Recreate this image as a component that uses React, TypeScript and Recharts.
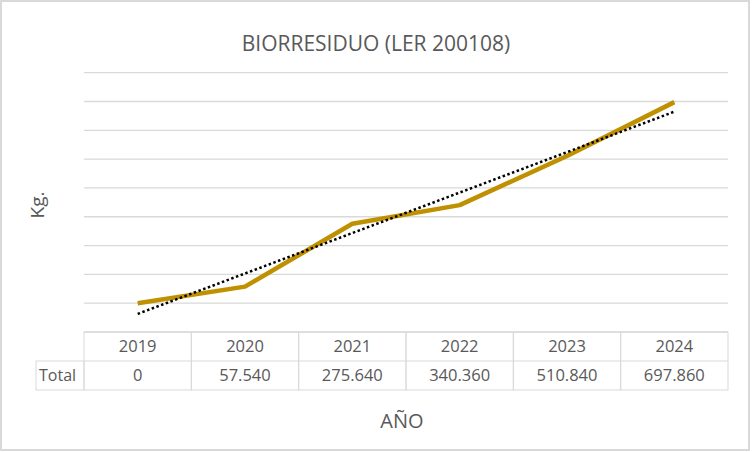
import { LineChart, Line, XAxis, YAxis, CartesianGrid } from 'recharts'

const years = ['2019', '2020', '2021', '2022', '2023', '2024']
const totals = [0, 57540, 275640, 340360, 510840, 697860]
const yTicks = [-100000, 0, 100000, 200000, 300000, 400000, 500000, 600000, 700000, 800000]

// lineal trend like the Excel trendline
const n = totals.length
const meanX = (n - 1) / 2
const meanY = totals.reduce((a, b) => a + b, 0) / n
const slope =
  totals.reduce((s, v, i) => s + (i - meanX) * (v - meanY), 0) /
  totals.reduce((s, _v, i) => s + (i - meanX) * (i - meanX), 0)
const intercept = meanY - slope * meanX

const data = years.map((year, i) => ({
  year,
  total: totals[i],
  trend: intercept + slope * i,
}))

const fmt = (v: number) => v.toLocaleString('de-DE')

const W = 752
const H = 452
const LEFT = 84
const RIGHT = 24
const CELL = (W - LEFT - RIGHT) / years.length
const ROW = 29
const GRID = '#D9D9D9'
const TEXT = '#595959'
const FONT = '"Open Sans", sans-serif'

function TableTick(props: any) {
  const { x, y, index, payload } = props
  const x0 = x - CELL / 2
  return (
    <g>
      <rect x={x0} y={y} width={CELL} height={ROW * 2} fill="none" stroke={GRID} strokeWidth={1} />
      <line x1={x0} x2={x0 + CELL} y1={y + ROW} y2={y + ROW} stroke={GRID} strokeWidth={1} />
      <text x={x} y={y + 20} textAnchor="middle" fill={TEXT} fontSize={16.5} fontFamily={FONT}>
        {payload.value}
      </text>
      <text x={x} y={y + ROW + 20} textAnchor="middle" fill={TEXT} fontSize={16.5} fontFamily={FONT}>
        {fmt(totals[index])}
      </text>
      {index === 0 && (
        <g>
          <rect x={x0 - 48} y={y + ROW} width={48} height={ROW} fill="none" stroke={GRID} strokeWidth={1} />
          <text x={x0 - 45} y={y + ROW + 20} fill={TEXT} fontSize={16} fontFamily={FONT}>
            Total
          </text>
        </g>
      )}
    </g>
  )
}

export default function App() {
  return (
    <div style={{ position: 'absolute', left: 0, top: 0, width: W, height: H, background: '#fff' }}>
      <LineChart width={W} height={H} data={data} margin={{ top: 72.7, right: RIGHT, left: LEFT, bottom: 62 }}>
        <CartesianGrid vertical={false} stroke={GRID} strokeWidth={1.3} />
        <YAxis hide domain={[-100000, 800000]} ticks={yTicks} type="number" />
        <XAxis
          dataKey="year"
          height={58}
          axisLine={false}
          tickLine={false}
          tickSize={0}
          tickMargin={0}
          padding={{ left: CELL / 2, right: CELL / 2 }}
          interval={0}
          tick={<TableTick />}
        />
        <Line
          dataKey="total"
          stroke="#BF9000"
          strokeWidth={4.5}
          strokeLinejoin="round"
          dot={false}
          isAnimationActive={false}
        />
        <Line
          dataKey="trend"
          stroke="#000"
          strokeWidth={2.5}
          strokeDasharray="2.5 2.5"
          dot={false}
          isAnimationActive={false}
        />
      </LineChart>
      <div
        style={{
          position: 'absolute', left: 0, top: 43, width: W, textAlign: 'center',
          fontFamily: FONT, fontSize: 21, color: TEXT, transform: 'translateY(-50%)',
        }}
      >
        BIORRESIDUO (LER 200108)
      </div>
      <div
        style={{
          position: 'absolute', left: 37, top: 205, transform: 'translate(-50%, -50%) rotate(-90deg)',
          fontFamily: FONT, fontSize: 19, color: TEXT, whiteSpace: 'nowrap',
        }}
      >
        Kg.
      </div>
      <div
        style={{
          position: 'absolute', left: 402, top: 420, transform: 'translate(-50%, -50%)',
          fontFamily: FONT, fontSize: 20, color: TEXT,
        }}
      >
        AÑO
      </div>
      <div
        style={{
          position: 'absolute', left: 0, top: 0, width: W - 2, height: H - 1, boxSizing: 'border-box',
          border: `2px solid ${GRID}`, pointerEvents: 'none',
        }}
      />
    </div>
  )
}
